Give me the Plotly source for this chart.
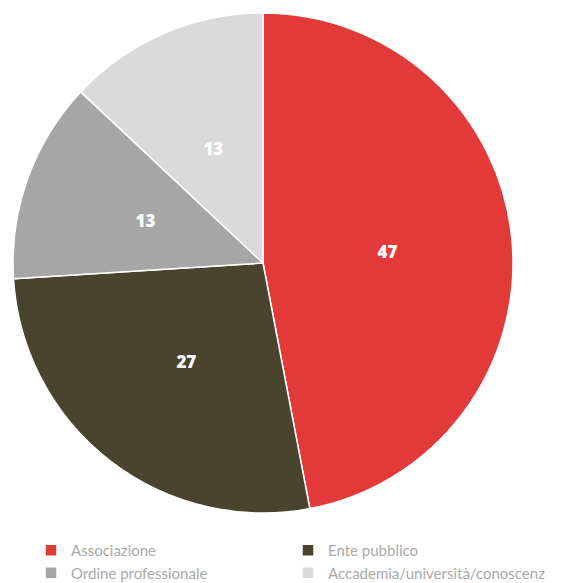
import plotly.graph_objects as go

categories = ["Associazione", "Ente pubblico", "Ordine professionale", "Accademia/università/conoscenza"]
values = [47, 27, 13, 13]
colors = ["#e23a38", "#4a442e", "#a6a6a6", "#dadada"]

W, H = 573, 583
CX, CY, R = 263, 263, 250      # pie centre and radius in pixels
R_OUT, R_IN = 0.62 * R, 0.38 * R  # ring used only to place the value labels

fig = go.Figure()
fig.add_trace(go.Pie(
    labels=categories,
    values=values,
    sort=False,
    direction="clockwise",
    rotation=0,
    domain=dict(x=[(CX - R) / W, (CX + R) / W], y=[(H - CY - R) / H, (H - CY + R) / H]),
    marker=dict(colors=colors, line=dict(color="white", width=1.5)),
    textinfo="none",
    hoverinfo="label+value",
))
# transparent ring carrying the value labels at about half the radius
fig.add_trace(go.Pie(
    labels=categories,
    values=values,
    sort=False,
    direction="clockwise",
    rotation=0,
    hole=R_IN / R_OUT,
    domain=dict(x=[(CX - R_OUT) / W, (CX + R_OUT) / W], y=[(H - CY - R_OUT) / H, (H - CY + R_OUT) / H]),
    marker=dict(colors=["rgba(0,0,0,0)"] * len(values), line=dict(width=0)),
    textinfo="value",
    textposition="inside",
    insidetextorientation="horizontal",
    textfont=dict(family="Open Sans", size=17, color="white", weight=800),
    hoverinfo="skip",
    showlegend=False,
))

fig.update_layout(
    width=W, height=H,
    margin=dict(l=0, r=0, t=0, b=0, autoexpand=False),
    paper_bgcolor="white",
    plot_bgcolor="white",
    showlegend=True,
    legend=dict(
        orientation="h",
        x=31 / W, y=1 - 534 / H, xanchor="left", yanchor="top",
        entrywidth=212,
        font=dict(family="Lato", size=15, color="#aaaaaa"),
        itemwidth=30,
        traceorder="normal",
        bgcolor="rgba(0,0,0,0)",
    ),
)

fig.write_html("out.html")
